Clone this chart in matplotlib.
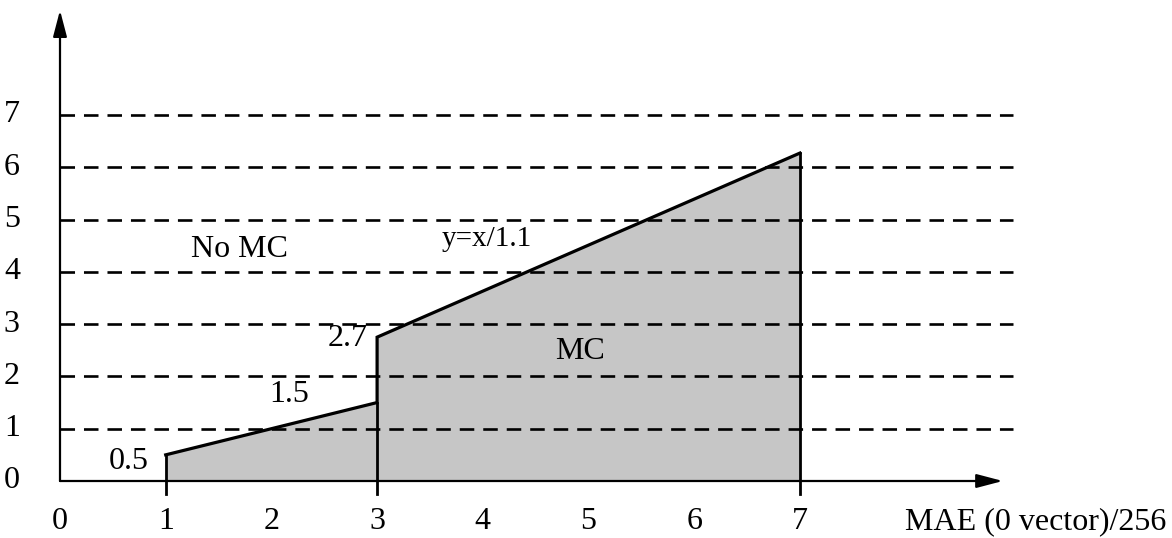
import matplotlib
matplotlib.use("Agg")
import matplotlib.pyplot as plt
from matplotlib.patches import Polygon

plt.rcParams['font.family'] = ['Liberation Serif', 'DejaVu Serif']

# Data
boundary_x = [1, 1, 3, 3, 7, 7]
boundary_y = [0, 0.5, 1.5, 2.75, 6.27, 0]
grid_levels = [1, 2, 3, 4, 5, 6, 7]
y_tick_labels = ['0', '1', '2', '3', '4', '5', '6', '7']
x_tick_labels = ['0', '1', '2', '3', '4', '5', '6', '7']
x_label = 'MAE (0 vector)/256'
annotations = [('No MC', 1.70, 4.42), ('y=x/1.1', 4.04, 4.62), ('MC', 4.92, 2.47),
               ('2.7', 2.72, 2.72), ('1.5', 2.17, 1.66), ('0.5', 0.65, 0.37)]

fig = plt.figure(figsize=(11.72, 5.38), dpi=100)
ax = fig.add_axes([0, 0, 1, 1])
ax.set_xlim(-60 / 105.7, (1172 - 60) / 105.7)
ax.set_ylim(-57 / 52.3, (538 - 57) / 52.3)
ax.axis('off')

# Shaded MC region
poly = Polygon(list(zip(boundary_x, boundary_y)), closed=True,
               facecolor='#c6c6c6', edgecolor='none', zorder=1)
ax.add_patch(poly)

# Dashed grid lines
for g in grid_levels:
    ax.plot([0, 9.02], [g, g], color='black', lw=1.9,
            dashes=(5.5, 3.4), zorder=2)

# Boundary line
ax.plot(boundary_x[1:-1], boundary_y[1:-1], color='black', lw=2.3,
        solid_joinstyle='miter', zorder=3)
# Verticals extending slightly below axis
for xv, yt in [(1, 0.5), (3, 1.5), (7, 6.27)]:
    ax.plot([xv, xv], [-0.25, yt], color='black', lw=2.0, zorder=3)

# Axes arrows
arrow_style = '-|>,head_length=1.6,head_width=0.42'
ax.annotate('', xy=(8.92, 0), xytext=(0, 0),
            arrowprops=dict(arrowstyle=arrow_style,
                            color='black', lw=1.6, shrinkA=0, shrinkB=0), zorder=4)
ax.annotate('', xy=(0, 9.0), xytext=(0, 0),
            arrowprops=dict(arrowstyle=arrow_style,
                            color='black', lw=1.6, shrinkA=0, shrinkB=0), zorder=4)

fs = 23
for i, lab in enumerate(y_tick_labels):
    ax.text(-0.455, i, lab, ha='center', va='center', fontsize=fs)
for i, lab in enumerate(x_tick_labels):
    ax.text(i, -0.77, lab, ha='center', va='center', fontsize=fs)
ax.text(7.99, -0.77, x_label, ha='left', va='center', fontsize=fs)

for txt, tx, ty in annotations:
    size = 21 if txt == 'y=x/1.1' else fs
    ax.text(tx, ty, txt, ha='center', va='center', fontsize=size)

fig.savefig('out.png', dpi=100)
